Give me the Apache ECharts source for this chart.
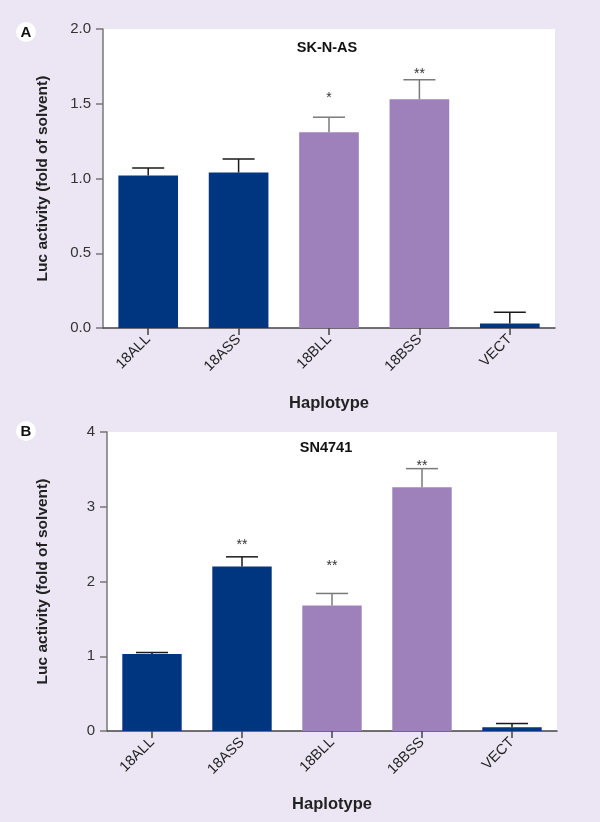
<!DOCTYPE html>
<html><head><meta charset="utf-8">
<script src="https://cdn.jsdelivr.net/npm/echarts@6/dist/echarts.min.js"></script>
<style>html,body{margin:0;padding:0;background:#ece5f3}#c{width:600px;height:822px}</style>
</head><body><div id="c"></div>
<script>
// ---- data ----
const categories = ['18ALL', '18ASS', '18BLL', '18BSS', 'VECT'];
const yTicksA = [0, 0.5, 1.0, 1.5, 2.0];
const yTicksB = [0, 1, 2, 3, 4];
const valuesA = [1.02, 1.04, 1.31, 1.53, 0.03];
const errorsA = [0.05, 0.09, 0.10, 0.13, 0.075];
const sigA = ['', '', '*', '**', ''];
const sigLevelA = [null, null, 1.56, 1.72, null];
const valuesB = [1.03, 2.20, 1.68, 3.26, 0.05];
const errorsB = [0.02, 0.13, 0.16, 0.25, 0.05];
const sigB = ['', '**', '**', '**', ''];
const sigLevelB = [null, 2.52, 2.24, 3.59, null];
const titleA = 'SK-N-AS';
const titleB = 'SN4741';
const xName = 'Haplotype';
const yName = 'Luc activity (fold of solvent)';

// ---- rendering ----
const FONT = '"Liberation Sans", Arial, Helvetica, sans-serif';
const BLUE = '#003580', PURPLE = '#9e80bb';
const colorOf = n => n.startsWith('18B') ? PURPLE : BLUE;
const errColorOf = n => n.startsWith('18B') ? '#7a7a7a' : '#1a1a1a';

const chart = echarts.init(document.getElementById('c'), null, {renderer: 'canvas'});

function xAxisCfg(gi, gap) {
  return {
    type: 'category', gridIndex: gi, data: categories,
    axisLine: {show: true, lineStyle: {color: '#444', width: 1.5}},
    axisTick: {show: true, alignWithLabel: true, length: 7, lineStyle: {color: '#444', width: 1.5}},
    axisLabel: {rotate: 45, fontSize: 14.5, color: '#222', fontFamily: FONT, margin: 9},
    splitLine: {show: false},
    name: xName, nameLocation: 'middle', nameGap: gap,
    nameTextStyle: {fontSize: 16.5, fontWeight: 'bold', color: '#222', fontFamily: FONT}
  };
}
function yAxisCfg(gi, ticks, dec) {
  return {
    type: 'value', gridIndex: gi, min: ticks[0], max: ticks[ticks.length - 1],
    interval: ticks[1] - ticks[0],
    axisLine: {show: true, lineStyle: {color: '#777', width: 1.5}},
    axisTick: {show: true, length: 7, lineStyle: {color: '#777', width: 1.5}},
    axisLabel: {fontSize: 15, color: '#333', fontFamily: FONT, margin: 12,
      formatter: v => v.toFixed(dec)},
    splitLine: {show: false},
    name: yName, nameLocation: 'middle', nameGap: dec ? 52 : 56,
    nameTextStyle: {fontSize: 15.5, fontWeight: 'bold', color: '#222', fontFamily: FONT}
  };
}
function barSeries(gi, values) {
  return {
    type: 'bar', xAxisIndex: gi, yAxisIndex: gi, barWidth: '66%',
    data: values.map((v, i) => ({value: v, itemStyle: {color: colorOf(categories[i])}})),
    z: 2
  };
}
function errSeries(gi, values, errs) {
  return {
    type: 'custom', xAxisIndex: gi, yAxisIndex: gi, z: 3,
    data: values.map((v, i) => [i, v, v + errs[i]]),
    renderItem: (params, api) => {
      const i = api.value(0);
      const p0 = api.coord([i, api.value(1)]);
      const p1 = api.coord([i, api.value(2)]);
      const col = errColorOf(categories[i]);
      const half = 16;
      return {type: 'group', children: [
        {type: 'line', shape: {x1: p0[0], y1: p0[1], x2: p1[0], y2: p1[1]}, style: {stroke: col, lineWidth: 1.5}},
        {type: 'line', shape: {x1: p1[0] - half, y1: p1[1], x2: p1[0] + half, y2: p1[1]}, style: {stroke: col, lineWidth: 1.5}}
      ]};
    }
  };
}
function sigSeries(gi, sig, lvl) {
  const d = [];
  sig.forEach((s, i) => { if (s) d.push([i, lvl[i], s]); });
  return {
    type: 'custom', xAxisIndex: gi, yAxisIndex: gi, z: 4,
    data: d,
    renderItem: (params, api) => {
      const item = d[params.dataIndex];
      const p = api.coord([item[0], item[1]]);
      return {type: 'text', x: p[0], y: p[1] + 3,
        style: {text: item[2], fill: '#333', font: '14px ' + FONT, align: 'center', verticalAlign: 'middle'}};
    }
  };
}

const option = {
  backgroundColor: '#ece5f3',
  animation: false,
  grid: [
    {left: 103, top: 29, width: 452, height: 299, show: true, backgroundColor: '#fff', borderWidth: 0, containLabel: false, outerBoundsMode: 'none'},
    {left: 107, top: 432, width: 450, height: 299, show: true, backgroundColor: '#fff', borderWidth: 0, containLabel: false, outerBoundsMode: 'none'}
  ],
  xAxis: [xAxisCfg(0, 67), xAxisCfg(1, 65)],
  yAxis: [yAxisCfg(0, yTicksA, 1), yAxisCfg(1, yTicksB, 0)],
  series: [
    barSeries(0, valuesA), errSeries(0, valuesA, errorsA), sigSeries(0, sigA, sigLevelA),
    barSeries(1, valuesB), errSeries(1, valuesB, errorsB), sigSeries(1, sigB, sigLevelB)
  ],
  graphic: [
    {type: 'circle', shape: {cx: 26, cy: 32, r: 10}, style: {fill: '#fff'}},
    {type: 'text', x: 26, y: 33, style: {text: 'A', font: 'bold 15px ' + FONT, fill: '#111', align: 'center', verticalAlign: 'middle'}},
    {type: 'circle', shape: {cx: 26, cy: 431, r: 10}, style: {fill: '#fff'}},
    {type: 'text', x: 26, y: 432, style: {text: 'B', font: 'bold 15px ' + FONT, fill: '#111', align: 'center', verticalAlign: 'middle'}},
    {type: 'text', x: 327, y: 48, style: {text: titleA, font: 'bold 14.5px ' + FONT, fill: '#111', align: 'center', verticalAlign: 'middle'}},
    {type: 'text', x: 326, y: 448, style: {text: titleB, font: 'bold 14.5px ' + FONT, fill: '#111', align: 'center', verticalAlign: 'middle'}}
  ]
};
chart.setOption(option);
</script></body></html>
